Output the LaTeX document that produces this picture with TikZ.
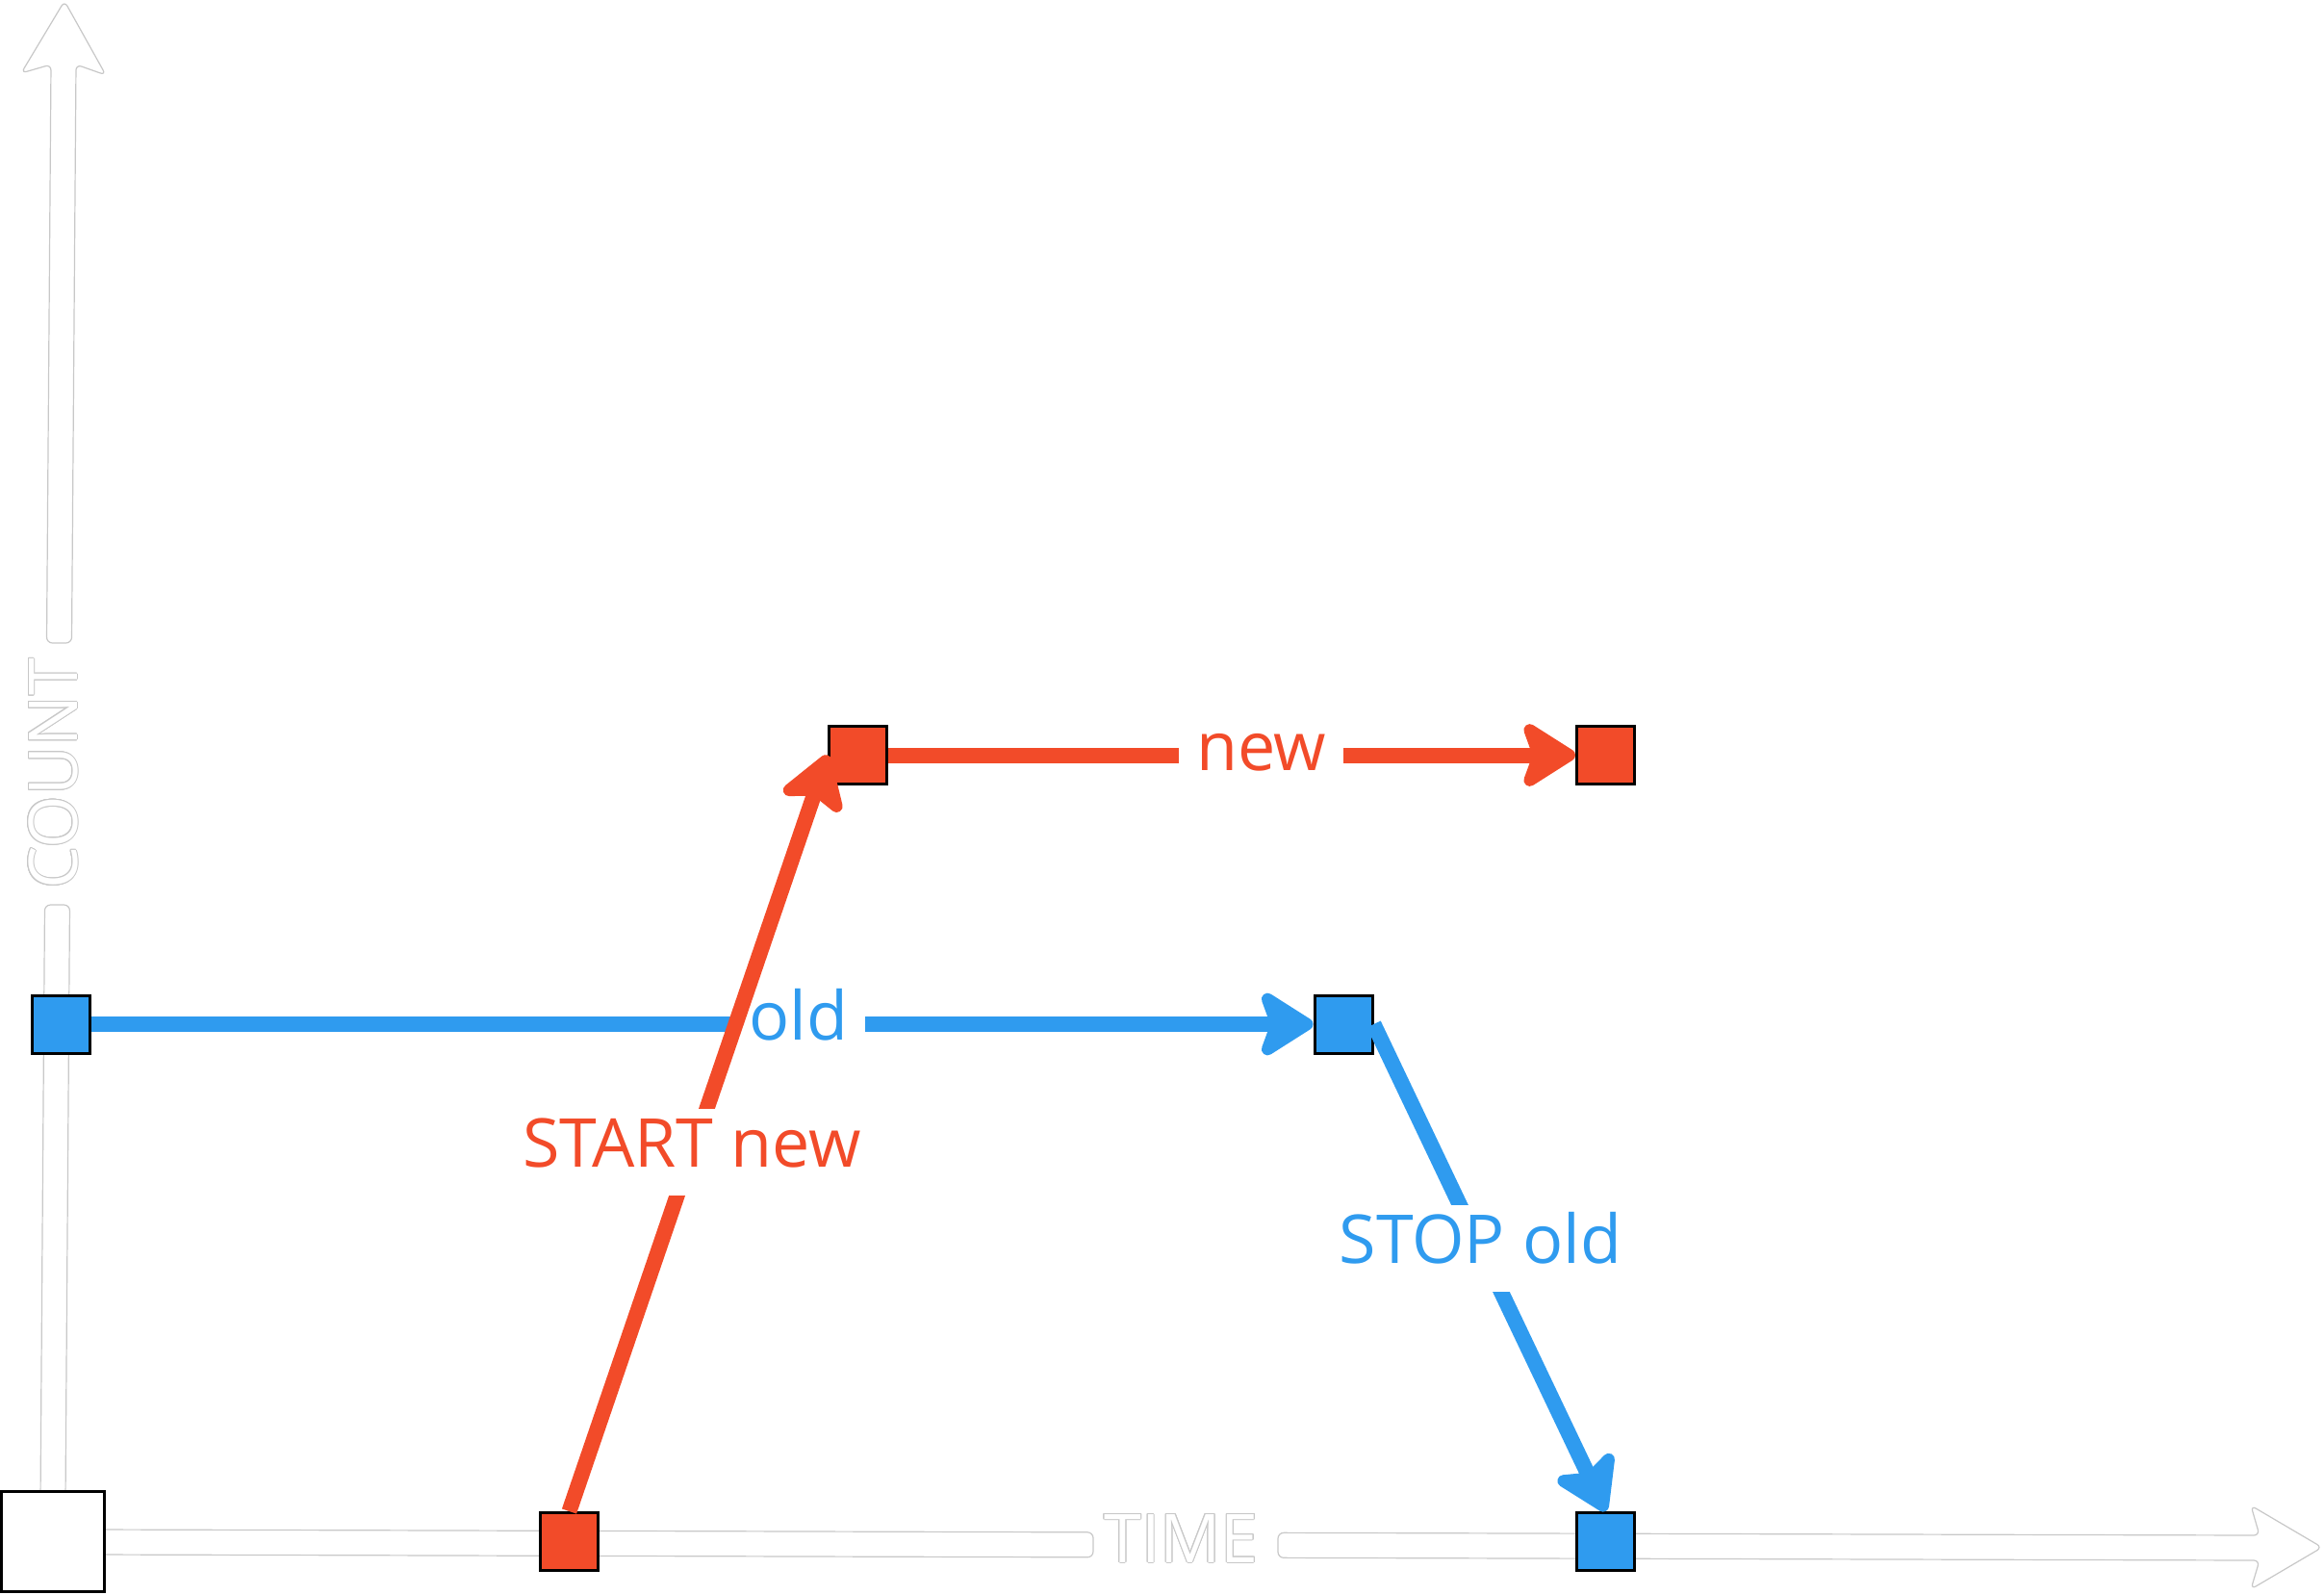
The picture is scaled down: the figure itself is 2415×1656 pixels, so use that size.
\documentclass[tikz,border=0pt]{standalone}
\usepackage{fontspec}
\setmainfont{Open Sans}
\usepackage{contour}
\contourlength{0.5pt}
\usetikzlibrary{arrows.meta}
\definecolor{cred}{RGB}{242,75,41}
\definecolor{cblue}{RGB}{47,155,239}
\definecolor{axisline}{RGB}{200,200,200}
\begin{document}
\begin{tikzpicture}[x=0.5pt,y=-0.5pt,
  sq/.style={draw=black,line width=1.5pt,minimum size=30pt,inner sep=0pt},
  redsq/.style={sq,fill=cred},
  bluesq/.style={sq,fill=cblue},
  conn/.style={line width=8pt},
  tipped/.style={-{Stealth[length=32pt,width=40pt,inset=7pt,round]}},
  lbl/.style={fill=white,font=\fontsize{35pt}{38pt}\selectfont,text height=30.5pt,text depth=14.5pt,inner ysep=0pt,inner xsep=9pt},
  axisshape/.style={fill=white,draw=axisline,line width=0.6pt,rounded corners=3pt},
  axislabel/.style={font=\fontsize{35pt}{38pt}\selectfont,inner sep=0pt}]
\useasboundingbox (0,0) rectangle (2415,1656);
% axes
\path[axisshape] (42,1560) -- (46.5,940) -- (72.5,940) -- (68,1560) -- cycle;
\path[axisshape] (48.5,668) -- (53,67) -- (22,76) -- (67,1) -- (110,78) -- (79,67) -- (74.5,668) -- cycle;
\path[axisshape] (100,1589) -- (1136,1591.8) -- (1136,1617.8) -- (100,1615) -- cycle;
\path[axisshape] (1328,1592.3) -- (2348,1595) -- (2339,1564) -- (2413,1607.5) -- (2339,1651) -- (2348,1621) -- (1328,1618.3) -- cycle;
\node[axislabel,rotate=90,anchor=base] (count) at (80,804) {\color{white}\contour{axisline}{COUNT}};
\node[axislabel,anchor=base] (time) at (1227.5,1623) {\color{white}\contour{axisline}{TIME}};
% nodes
\node[sq,fill=white,minimum width=53.5pt,minimum height=52pt] (O) at (55,1601.5) {};
\node[redsq] (A) at (891.5,784.5) {};
\node[redsq] (B) at (1668.5,784.5) {};
\node[bluesq] (C) at (63.5,1064) {};
\node[bluesq] (D) at (1396,1064) {};
\node[bluesq] (E) at (1668.5,1601.5) {};
\node[redsq] (F) at (591.5,1601.5) {};
% connectors
\draw[conn,cblue,tipped] (C.east) -- node[lbl,pos=0.579]{old} (D.west);
\draw[conn,cblue,tipped] (D.east) -- node[lbl,pos=0.46]{STOP old} (E.north);
\draw[conn,cred,tipped] (F.north) -- node[lbl,pos=0.475]{START new} (A.west);
\draw[conn,cred,tipped] (A.east) -- node[lbl,pos=0.543]{new} (B.west);
\end{tikzpicture}
\end{document}
